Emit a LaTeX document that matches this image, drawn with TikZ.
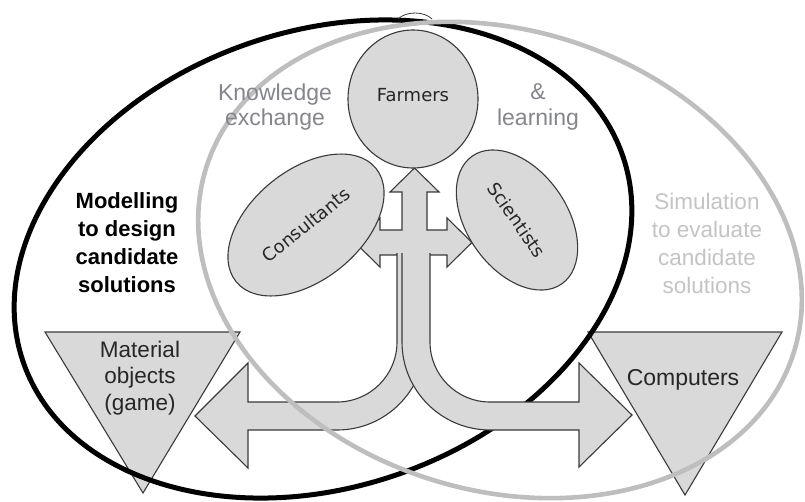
\documentclass[tikz,border=0pt]{standalone}
\usepackage{fontspec}
\setmainfont{Liberation Sans}
\newfontfamily\dejavu{DejaVu Sans}
\usetikzlibrary{shapes.geometric}
\definecolor{shapefill}{HTML}{D9D9D9}
\definecolor{shapeline}{HTML}{3A3A3A}
\definecolor{ringgray}{HTML}{BEBEBE}
\definecolor{kegray}{HTML}{85868C}
\definecolor{simgray}{HTML}{C4C4C4}
\tikzset{
  blob/.style={ellipse, draw=shapeline, fill=shapefill, line width=1.1pt, inner sep=0pt,
    font=\dejavu\fontsize{18}{20}\selectfont, text=black!85},
  block/.style={draw=shapeline, fill=shapefill, line width=1.1pt, line join=miter},
  lbl/.style={align=center, inner sep=0pt, font=\fontsize{22.5}{26.5}\selectfont},
}
\begin{document}
\begin{tikzpicture}[x=1pt,y=-1pt]
\useasboundingbox (0,0) rectangle (805,501);
\fill[white] (0,0) rectangle (805,501);
% triangles
\draw[block] (45,332) -- (240,332) -- (143,493) -- cycle;
\draw[block] (588,332) -- (782,332) -- (685,495) -- cycle;
% black ring
\draw[line width=5pt, black, rotate around={19:(323,259)}] (323,259) ellipse [x radius=317, y radius=228];
% top artefact
\draw[line width=0.8pt, shapeline] (398,19) .. controls (406,11) and (424,11) .. (432,19);
% central cross arrow
\draw[block] (414.5,168) -- (439,192) -- (427,192) -- (427,230) -- (447,230) -- (447,218) -- (472,242.5)
  -- (447,267) -- (447,255) -- (380,255) -- (380,267) -- (355,242.5) -- (380,218) -- (380,230)
  -- (402,230) -- (402,192) -- (390,192) -- cycle;
% left curved arrow
\filldraw[block] (397,253) -- (397,342) arc[start angle=0, end angle=90, radius=60]
  -- (248,402) -- (248,363) -- (195,416) -- (248,468) -- (248,430) -- (337,430)
  arc[start angle=90, end angle=0, radius=88] -- (425,253);
% right curved arrow
\filldraw[block] (402,253) -- (402,342) arc[start angle=180, end angle=90, radius=88]
  -- (579,430) -- (579,467) -- (632,415) -- (579,363) -- (579,402) -- (490,402)
  arc[start angle=90, end angle=180, radius=60] -- (430,253);
% people
\node[blob, minimum width=130, minimum height=138] (farmers) at (413,99) {\raisebox{9pt}{Farmers}};
\node[blob, rotate=39, minimum width=180, minimum height=110] (consultants) at (306,225) {Consultants};
\node[blob, rotate=-55, minimum width=156, minimum height=100] (scientists) at (517,220) {Scientists};
% gray ring
\draw[line width=4.6pt, ringgray, rotate around={-17.5:(500,260)}] (500,260) ellipse [x radius=308, y radius=230];
% texts
\node[lbl, text=kegray, font=\fontsize{23}{25.5}\selectfont] (ke) at (275,107) {Knowledge\\exchange};
\node[lbl, text=kegray, font=\fontsize{23}{25.5}\selectfont] (learn) at (538,107) {\&\\learning};
\node[lbl, font=\bfseries\fontsize{22}{28}\selectfont] (model) at (127,243) {Modelling\\to design\\candidate\\solutions};
\node[lbl, text=simgray, font=\fontsize{22.5}{28}\selectfont] (sim) at (707,243) {Simulation\\to evaluate\\candidate\\solutions};
\node[lbl, text=black!85] (material) at (140,378) {Material\\objects\\(game)};
\node[lbl, text=black!85, font=\fontsize{23}{26}\selectfont] (computers) at (683,380) {Computers};
\end{tikzpicture}
\end{document}
